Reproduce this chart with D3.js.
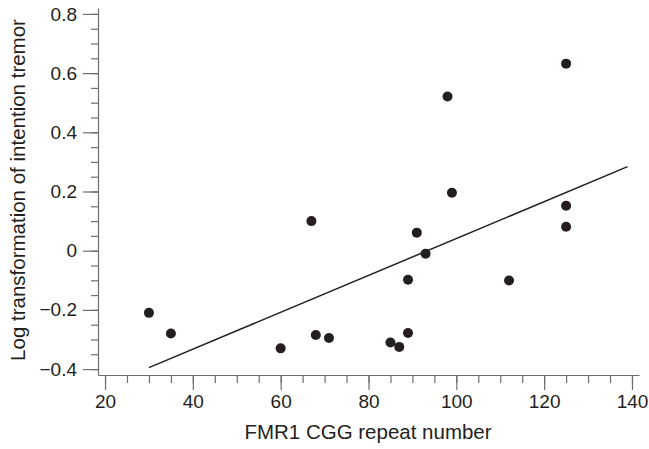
<!DOCTYPE html>
<html>
<head>
<meta charset="utf-8">
<script src="https://cdn.jsdelivr.net/npm/d3@7/dist/d3.min.js"></script>
<style>
  body { margin: 0; background: #fff; }
  svg text { font-family: "Liberation Sans", Arial, sans-serif; fill: #231f20; }
  .axis path, .axis line { stroke: #6d6e71; stroke-width: 1.2; }
</style>
</head>
<body>
<div id="chart"></div>
<script>
// CGG repeat number vs log intention tremor
var cgg    = [30, 35, 60, 67, 68, 71, 85, 87, 89, 89, 91, 93, 98, 99, 112, 125, 125, 125];
var tremor = [-0.21, -0.28, -0.33, 0.10, -0.285, -0.295, -0.31, -0.325, -0.278, -0.098, 0.061, -0.01, 0.521, 0.196, -0.101, 0.632, 0.152, 0.081];
// fitted line end points
var fitX = [30, 139];
var fitY = [-0.395, 0.284];
var xTicks = [20, 40, 60, 80, 100, 120, 140];
var yTicks = [-0.4, -0.2, 0, 0.2, 0.4, 0.6, 0.8];

var width = 649, height = 449;

var svg = d3.select("#chart").append("svg")
  .attr("width", width)
  .attr("height", height);

var x = d3.scaleLinear().domain([18.4, 141.6]).range([98, 639]);
var y = d3.scaleLinear().domain([-0.42, 0.82]).range([375, 8]);

// minor ticks
svg.append("g")
  .attr("class", "axis")
  .attr("transform", "translate(0,375)")
  .call(d3.axisBottom(x).tickValues(d3.range(20, 141, 5)).tickSize(8).tickSizeOuter(0).tickFormat(""));

svg.append("g")
  .attr("class", "axis")
  .attr("transform", "translate(98,0)")
  .call(d3.axisLeft(y).tickValues(d3.range(-8, 17).map(function(d) { return d * 0.05; })).tickSize(7).tickSizeOuter(0).tickFormat(""));

// major ticks
var xAxis = svg.append("g")
  .attr("class", "axis")
  .attr("transform", "translate(0,375)")
  .call(d3.axisBottom(x).tickValues(xTicks).tickSize(15).tickSizeOuter(0).tickPadding(5));
xAxis.selectAll("text").style("font-size", "19px");
xAxis.select(".domain").remove();

var yAxis = svg.append("g")
  .attr("class", "axis")
  .attr("transform", "translate(98,0)")
  .call(d3.axisLeft(y).tickValues(yTicks).tickSize(15).tickSizeOuter(0).tickPadding(6)
    .tickFormat(function(d) { return d === 0 ? "0" : d3.format(".1f")(d).replace("-", "\u2013"); }));
yAxis.selectAll("text").style("font-size", "19px");
yAxis.select(".domain").remove();

// regression line
svg.append("line")
  .attr("x1", x(fitX[0])).attr("y1", y(fitY[0]))
  .attr("x2", x(fitX[1])).attr("y2", y(fitY[1]))
  .attr("stroke", "#231f20")
  .attr("stroke-width", 1.5);

// points
svg.selectAll("circle.pt")
  .data(cgg)
  .enter().append("circle")
  .attr("class", "pt")
  .attr("cx", function(d) { return x(d); })
  .attr("cy", function(d, i) { return y(tremor[i]); })
  .attr("r", 5)
  .attr("fill", "#231f20");

// axis titles
svg.append("text")
  .attr("x", 368)
  .attr("y", 439)
  .attr("text-anchor", "middle")
  .style("font-size", "20.5px")
  .text("FMR1 CGG repeat number");

svg.append("text")
  .attr("transform", "translate(25,190) rotate(-90)")
  .attr("text-anchor", "middle")
  .style("font-size", "20.5px")
  .text("Log transformation of intention tremor");
</script>
</body>
</html>
